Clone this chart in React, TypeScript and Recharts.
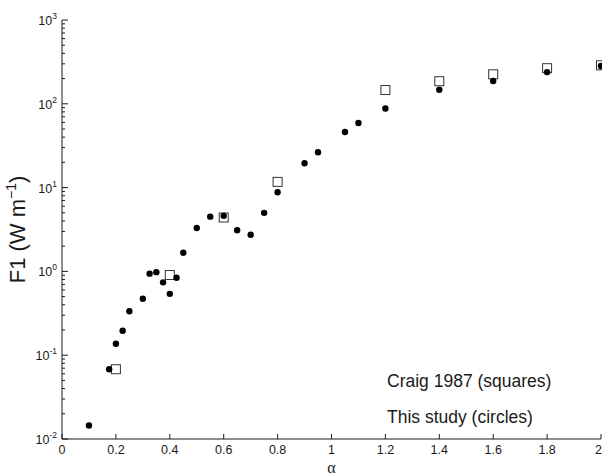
import { Customized, Scatter, ScatterChart, XAxis, YAxis } from "recharts";

// alpha values and F1 (W m^-1)
const studyAlpha = [
  0.1, 0.175, 0.2, 0.225, 0.25, 0.3, 0.325, 0.35, 0.375, 0.4, 0.425, 0.45,
  0.5, 0.55, 0.6, 0.65, 0.7, 0.75, 0.8, 0.9, 0.95, 1.05, 1.1, 1.2, 1.4, 1.6,
  1.8, 2.0,
];
const studyF1 = [
  0.0145, 0.068, 0.137, 0.196, 0.334, 0.472, 0.94, 0.98, 0.74, 0.54, 0.84,
  1.67, 3.3, 4.5, 4.6, 3.1, 2.74, 5.0, 8.8, 19.5, 26.4, 46, 59, 88, 147, 187,
  239, 282,
];

const craigAlpha = [0.2, 0.4, 0.6, 0.8, 1.2, 1.4, 1.6, 1.8, 2.0];
const craigF1 = [0.068, 0.905, 4.4, 11.7, 146, 186, 225, 266, 288];

const xTicks = [0, 0.2, 0.4, 0.6, 0.8, 1, 1.2, 1.4, 1.6, 1.8, 2];
const xTickLabels = ["0", "0.2", "0.4", "0.6", "0.8", "1", "1.2", "1.4", "1.6", "1.8", "2"];
const yDecades = [0.01, 0.1, 1, 10, 100, 1000];
const yExponents = ["-2", "-1", "0", "1", "2", "3"];

const legendLines = ["Craig 1987 (squares)", "This study (circles)"];

const studyData = studyAlpha.map((a, i) => ({ x: a, y: studyF1[i] }));
const craigData = craigAlpha.map((a, i) => ({ x: a, y: craigF1[i] }));

// decades plus the 2..9 minor ticks between them
const yTicks: number[] = [];
yDecades.forEach((d, i) => {
  yTicks.push(d);
  if (i < yDecades.length - 1) {
    for (let m = 2; m <= 9; m++) yTicks.push(Number((d * m).toPrecision(3)));
  }
});

const INK = "#1a1a1a";
const FONT = "'Liberation Sans', Arial, sans-serif";

function isDecade(v: number) {
  return yDecades.some((d) => Math.abs(d - v) / d < 1e-6);
}

function LeftTick(props: any) {
  const { x, y, payload } = props;
  const v = payload.value;
  const major = isDecade(v);
  const idx = yDecades.findIndex((d) => Math.abs(d - v) / d < 1e-6);
  return (
    <g>
      <line x1={x} y1={y} x2={x + (major ? 6 : 3)} y2={y} stroke={INK} />
      {major ? (
        <text x={x - 5} y={y + 5} textAnchor="end" fontSize={12.5} fill={INK} fontFamily={FONT}>
          10
          <tspan dy={-6} fontSize={8.5}>
            {yExponents[idx]}
          </tspan>
        </text>
      ) : null}
    </g>
  );
}

function RightTick(props: any) {
  const { x, y, payload } = props;
  const major = isDecade(payload.value);
  return <line x1={x} y1={y} x2={x - (major ? 6 : 3)} y2={y} stroke={INK} />;
}

function BottomTick(props: any) {
  const { x, y, payload } = props;
  const idx = xTicks.indexOf(payload.value);
  const last = idx === xTicks.length - 1;
  return (
    <g>
      <line x1={x} y1={y} x2={x} y2={y - 5} stroke={INK} />
      <text
        x={last ? x + 1 : x}
        y={y + 15}
        textAnchor={last ? "end" : "middle"}
        fontSize={12.5}
        fill={INK}
        fontFamily={FONT}
      >
        {xTickLabels[idx]}
      </text>
    </g>
  );
}

function TopTick(props: any) {
  const { x, y } = props;
  return <line x1={x} y1={y} x2={x} y2={y + 5} stroke={INK} />;
}

function Circle(props: any) {
  return <circle cx={props.cx} cy={props.cy} r={3.2} fill="#000" />;
}

function Square(props: any) {
  return (
    <rect
      x={props.cx - 4.5}
      y={props.cy - 4.5}
      width={9}
      height={9}
      fill="#fff"
      stroke="#333"
      strokeWidth={1}
    />
  );
}

function Legend() {
  return (
    <g fontFamily={FONT} fontSize={17.5} fill={INK}>
      {legendLines.map((t, i) => (
        <text key={t} x={387} y={387 + i * 36}>
          {t}
        </text>
      ))}
    </g>
  );
}

export default function App() {
  return (
    <div style={{ position: "absolute", left: 0, top: 0, background: "#fff" }}>
      <ScatterChart
        width={602}
        height={475}
        margin={{ top: 20, right: 1, bottom: 0, left: 0 }}
      >
        <XAxis
          xAxisId="bottom"
          type="number"
          dataKey="x"
          domain={[0, 2]}
          ticks={xTicks}
          interval={0}
          height={36}
          tickSize={0}
          tickMargin={0}
          tickLine={false}
          axisLine={{ stroke: INK }}
          tick={<BottomTick />}
          label={{
            content: (p: any) => {
              const vb = p.viewBox;
              return (
                <text
                  x={vb.x + vb.width / 2}
                  y={473}
                  textAnchor="middle"
                  fontSize={16}
                  fill={INK}
                  fontFamily="'Liberation Serif', serif"
                >
                  α
                </text>
              );
            },
          }}
        />
        <XAxis
          xAxisId="top"
          orientation="top"
          type="number"
          dataKey="x"
          domain={[0, 2]}
          ticks={xTicks}
          interval={0}
          height={0}
          tickSize={0}
          tickMargin={0}
          tickLine={false}
          axisLine={{ stroke: INK }}
          tick={<TopTick />}
        />
        <YAxis
          yAxisId="left"
          type="number"
          dataKey="y"
          scale="log"
          domain={[0.01, 1000]}
          allowDataOverflow
          ticks={yTicks}
          interval={0}
          width={62}
          tickSize={0}
          tickMargin={0}
          tickLine={false}
          axisLine={{ stroke: INK }}
          tick={<LeftTick />}
          label={{
            content: (p: any) => {
              const vb = p.viewBox;
              const cx = 25;
              const cy = vb.y + vb.height / 2;
              return (
                <text
                  x={cx}
                  y={cy}
                  transform={`rotate(-90 ${cx} ${cy})`}
                  textAnchor="middle"
                  fontSize={22}
                  fill={INK}
                  fontFamily={FONT}
                >
                  F1 (W m
                  <tspan dy={-9} fontSize={14}>
                    −1
                  </tspan>
                  <tspan dy={9}>)</tspan>
                </text>
              );
            },
          }}
        />
        <YAxis
          yAxisId="right"
          orientation="right"
          type="number"
          dataKey="y"
          scale="log"
          domain={[0.01, 1000]}
          allowDataOverflow
          ticks={yTicks}
          interval={0}
          width={0}
          tickSize={0}
          tickMargin={0}
          tickLine={false}
          axisLine={{ stroke: INK }}
          tick={<RightTick />}
        />
        <Scatter
          data={craigData}
          xAxisId="bottom"
          yAxisId="left"
          shape={<Square />}
          isAnimationActive={false}
        />
        <Scatter
          data={studyData}
          xAxisId="bottom"
          yAxisId="left"
          shape={<Circle />}
          isAnimationActive={false}
        />
        <Customized component={<Legend />} />
      </ScatterChart>
    </div>
  );
}
